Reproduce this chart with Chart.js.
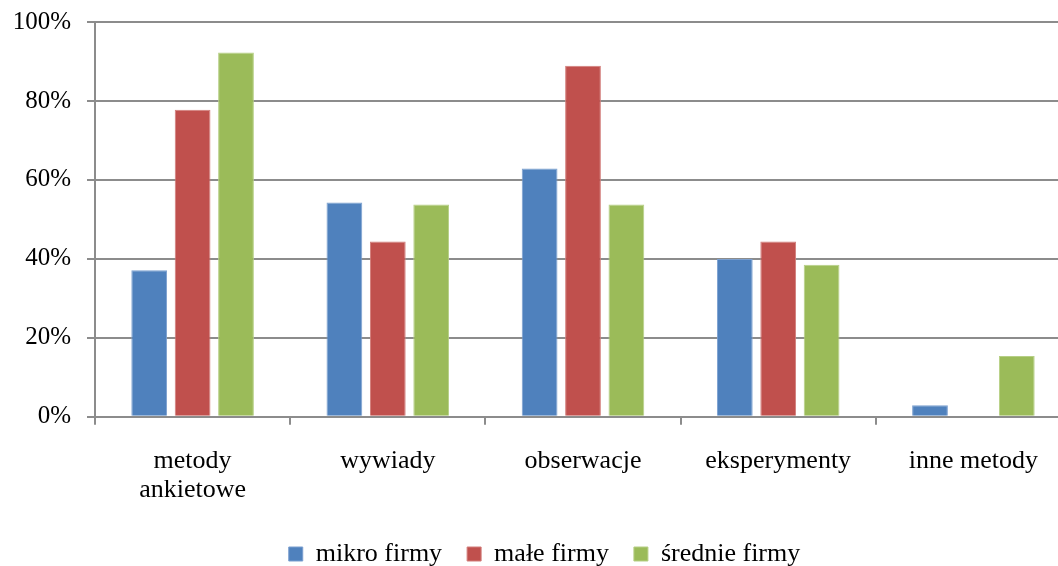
<!DOCTYPE html>
<html>
<head>
<meta charset="utf-8">
<script src="https://cdn.jsdelivr.net/npm/chart.js@4/dist/chart.umd.min.js"></script>
<style>
  html, body { margin: 0; padding: 0; background: #fff; overflow: hidden; }
  #wrap { position: relative; width: 1071px; height: 577px; }
</style>
</head>
<body>
<div id="wrap"><canvas id="c"></canvas></div>
<script>
// Survey methods used by firms of each size (share of firms, %)
const categories = [["metody", "ankietowe"], "wywiady", "obserwacje", "eksperymenty", "inne metody"];
const seriesNames = ["mikro firmy", "małe firmy", "średnie firmy"];
const mikroFirmy = [37.1, 54.3, 62.9, 40.0, 2.9];
const maleFirmy = [77.8, 44.4, 88.9, 44.4, 0];
const srednieFirmy = [92.3, 53.8, 53.8, 38.5, 15.4];
const yTicks = [0, 20, 40, 60, 80, 100];

const fills = ["#4F81BD", "#C0504D", "#9BBB59"];
const edges = ["#7b9fcf", "#d27d7a", "#b6cf85"];
const serif = "'Liberation Serif', 'Times New Roman', serif";
const gridGray = "#8c8c8c";

Chart.defaults.font.family = serif;
Chart.defaults.color = "#000";

const values = [mikroFirmy, maleFirmy, srednieFirmy];

// nudge the legend row a little to the right of the canvas centre
const legendShift = {
  id: "legendShift",
  afterLayout(chart) {
    const lg = chart.legend;
    if (lg) { lg.left += 9; lg.right += 9; }
  }
};

new Chart(document.getElementById("c"), {
  type: "bar",
  data: {
    labels: categories,
    datasets: seriesNames.map((name, i) => ({
      label: name,
      data: values[i],
      backgroundColor: fills[i],
      borderColor: edges[i],
      borderWidth: 1,
      categoryPercentage: 0.667,
      barPercentage: 0.824
    }))
  },
  plugins: [legendShift],
  options: {
    responsive: true,
    maintainAspectRatio: false,
    animation: false,
    layout: { padding: { top: 22, right: 0, left: 0, bottom: 0 } },
    plugins: {
      tooltip: { enabled: false },
      legend: {
        position: "bottom",
        labels: {
          color: "#000",
          font: { family: serif, size: 26 },
          boxWidth: 14,
          boxHeight: 14,
          padding: 25
        }
      }
    },
    scales: {
      x: {
        afterFit: (s) => { s.height -= 10; },
        grid: {
          offset: true,
          drawOnChartArea: false,
          drawTicks: true,
          tickLength: 8,
          color: gridGray,
          lineWidth: 2
        },
        border: { color: gridGray, width: 2 },
        ticks: {
          color: "#000",
          font: { family: serif, size: 26, lineHeight: 1.1 },
          padding: 22,
          maxRotation: 0,
          autoSkip: false
        }
      },
      y: {
        min: 0,
        max: 100,
        afterFit: (s) => { s.width = 95; s.paddingTop = 0; s.paddingBottom = 0; },
        afterBuildTicks: (s) => { s.ticks = yTicks.map(v => ({ value: v })); },
        grid: {
          color: gridGray,
          lineWidth: 2,
          tickLength: 8
        },
        border: { color: gridGray, width: 2 },
        ticks: {
          color: "#000",
          font: { family: serif, size: 25 },
          padding: 16,
          callback: (v) => v + "%"
        }
      }
    }
  }
});
</script>
</body>
</html>
